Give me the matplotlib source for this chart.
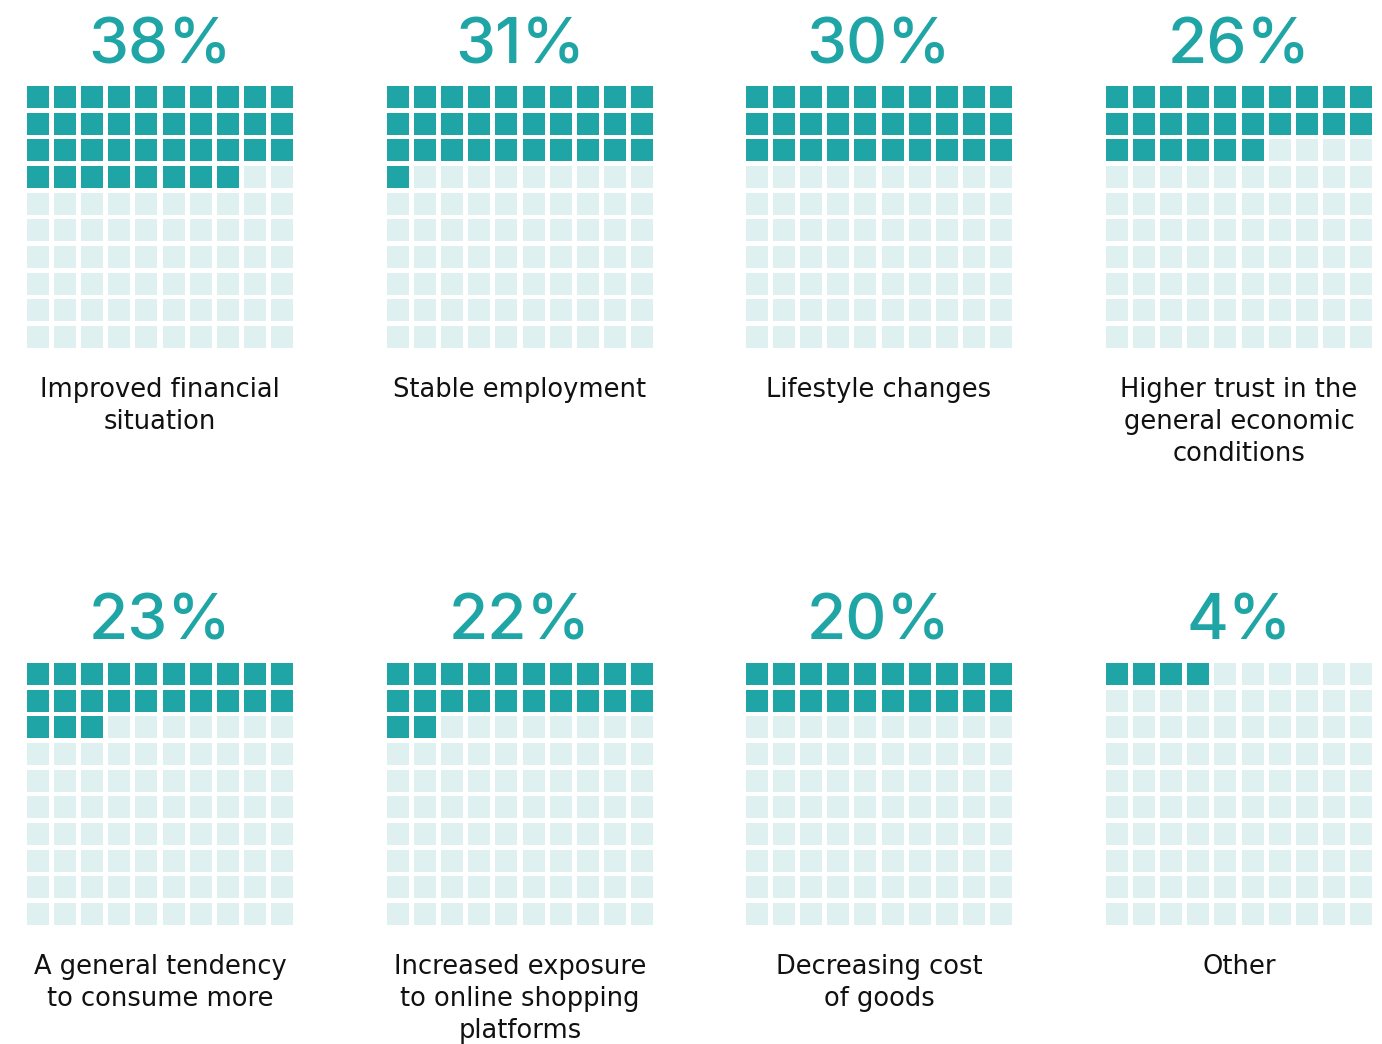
import matplotlib
matplotlib.use("Agg")
import matplotlib.pyplot as plt
from matplotlib.patches import Rectangle

categories = [
    "Improved financial\nsituation",
    "Stable employment",
    "Lifestyle changes",
    "Higher trust in the\ngeneral economic\nconditions",
    "A general tendency\nto consume more",
    "Increased exposure\nto online shopping\nplatforms",
    "Decreasing cost\nof goods",
    "Other",
]
values = [38, 31, 30, 26, 23, 22, 20, 4]

FILLED = "#1fa5a5"
EMPTY = "#def1f0"
W, H = 1382, 1044
fig = plt.figure(figsize=(W / 100, H / 100), dpi=100)

grid_lefts = [27, 387, 746, 1106]
grid_tops = [86, 663]
grid_w, grid_h = 266, 262
cell_w, cell_h = 22, 22
pitch_x = (grid_w - cell_w) / 9
pitch_y = (grid_h - cell_h) / 9

for i, (cat, val) in enumerate(zip(categories, values)):
    r, c = divmod(i, 4)
    left = grid_lefts[c]
    top = grid_tops[r]
    ax = fig.add_axes([left / W, 1 - (top + grid_h) / H, grid_w / W, grid_h / H])
    ax.set_xlim(0, grid_w)
    ax.set_ylim(grid_h, 0)
    ax.axis("off")
    for k in range(100):
        row, col = divmod(k, 10)
        ax.add_patch(Rectangle((col * pitch_x, row * pitch_y), cell_w, cell_h,
                               facecolor=FILLED if k < val else EMPTY,
                               edgecolor="none"))
    cx = (left + grid_w / 2) / W
    fig.text(cx, 1 - (top - 23) / H, f"{val}%", ha="center", va="baseline",
             fontsize=46, color=FILLED, family="Inter", fontweight="medium")
    fig.text(cx, 1 - (top + grid_h + 29) / H, cat, ha="center", va="top",
             fontsize=18.5, color="#111111", family="DejaVu Sans",
             linespacing=1.3)

fig.savefig("out.png", dpi=100, facecolor="white")
